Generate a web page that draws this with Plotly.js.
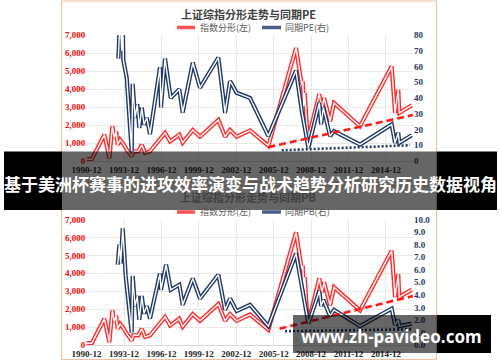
<!DOCTYPE html>
<html><head><meta charset="utf-8">
<script src="https://cdn.plot.ly/plotly-3.0.1.min.js"></script>
<style>html,body{margin:0;padding:0;background:#fff}#chart{width:500px;height:362px}</style>
</head><body><div id="chart"></div>
<script>
// ---- data ----
const tickLabels = ['1990-12','1993-12','1996-12','1999-12','2002-12','2005-12','2008-12','2011-12','2014-12'];

const idxYear = [1990.94,1991.34,1992.35,1992.67,1992.75,1992.99,1993.15,1993.29,1993.42,1993.61,1993.82,1994.14,1994.54,1994.67,1995.07,1995.35,1995.61,1996.01,1996.95,1997.22,1997.62,1998.36,1998.63,1999.44,2000.02,2001.49,2002.03,2002.43,2002.96,2004.03,2005.5,2007.72,2008.18,2008.26,2008.34,2008.42,2008.58,2008.71,2009.59,2009.8,2009.97,2010.45,2010.77,2012.85,2015.39,2015.66,2015.92,2016.0,2017.0];
const idxVal  = [100,100,1460,540,150,1930,1280,1650,900,1180,1000,630,250,540,540,900,450,540,1370,1560,1090,1460,1020,1720,1350,2280,1350,1720,1350,1700,850,6280,4240,4430,3040,3780,2020,1280,3720,2940,3500,2210,3220,1930,5260,2670,3960,2670,3090];

const peYear = [1993.47,1993.61,1993.74,1993.82,1993.87,1994.14,1994.54,1994.62,1994.81,1994.99,1995.15,1995.35,1995.53,1995.75,1996.01,1996.81,1996.89,1997.21,1997.67,1998.36,1998.63,1999.44,2000.02,2001.49,2002.03,2002.43,2002.96,2004.03,2005.5,2007.72,2008.18,2008.44,2008.71,2009.59,2009.73,2009.91,2010.45,2010.77,2012.85,2015.39,2015.66,2015.92,2016.0,2017.0];
const peVal  = [65,92,70,95,64,53,6,49,27.5,36,21,34,23,27.5,17,59.5,34,65,40,45.6,30.7,62.5,46.5,65.7,30.5,50.8,43.3,40,15.8,57.4,31.8,21.1,8.3,37.1,23.3,33.9,15.8,19,10.4,23.2,11.5,17.9,11.5,16.4];

const pbYear = [1993.42,1993.55,1993.66,1993.82,1993.95,1994.06,1994.54,1994.62,1994.81,1994.99,1995.15,1995.35,1995.53,1995.75,1996.01,1996.81,1996.89,1997.3,1997.67,1998.36,1998.63,1999.44,2000.02,2001.49,2002.03,2002.43,2002.96,2004.03,2005.5,2007.72,2008.18,2008.44,2008.71,2009.59,2009.73,2009.91,2010.45,2010.77,2012.85,2015.39,2015.66,2015.92,2016.0,2017.0];
const pbVal  = [6.4,8.0,6.5,9.3,7.3,5.5,1.0,5.5,3.1,3.9,2.0,3.9,2.5,3.1,2.1,5.7,4.4,6.4,4.4,4.8,3.2,5.3,3.7,5.6,2.8,3.7,2.7,3.2,1.5,7.3,4.7,3.1,1.7,4.3,3.1,3.6,2.3,2.8,1.5,2.9,1.6,2.0,1.5,1.7];

const peTrendYear = [2005.5, 2017.1], peTrendVal = [8.8, 29.2];
const peFloorYear = [2006.57, 2016.86], peFloorVal = [6.8, 10.0];
const pbTrendYear = [2006.4, 2017.1], pbTrendVal = [1.3, 3.9];
const pbFloorYear = [2006.84, 2017.0], pbFloorVal = [1.1, 1.25];

const titleTop = '上证综指分形走势与同期PE';
const titleBot = '上证综指分形走势与同期PB';
const legIdx = '指数分形(左)';
const legPE = '同期PE(右)';
const legPB = '同期PB(右)';
const bannerText = '基于美洲杯赛事的进攻效率演变与战术趋势分析研究历史数据视角';
const watermark = 'www.zh-pavideo.com';

// ---- styling ----
const RED = '#ff2a2a', NAVY = '#1f3864';
const W = 500, H = 362;
const fx = x => x / W, fy = y => 1 - y / H;
const tickVals = tickLabels.map(s => +s.slice(0,4) + (+s.slice(5) - 0.9) / 12);

function dbl(x, y, xa, ya, color) {
  return [
    {x, y, xaxis: xa, yaxis: ya, mode: 'lines', line: {color, width: 4.2}, hoverinfo: 'skip'},
    {x, y, xaxis: xa, yaxis: ya, mode: 'lines', line: {color: '#ffffff', width: 1.4}, hoverinfo: 'skip'}
  ];
}
const traces = [
  ...dbl(idxYear, idxVal, 'x', 'y', RED),
  ...dbl(peYear, peVal, 'x', 'y2', NAVY),
  {x: peTrendYear, y: peTrendVal, xaxis: 'x', yaxis: 'y2', mode: 'lines', line: {color: '#ff1a1a', width: 2.6, dash: '7px,4px'}},
  {x: peFloorYear, y: peFloorVal, xaxis: 'x', yaxis: 'y2', mode: 'lines', line: {color: NAVY, width: 2.6, dash: '2px,2px'}},
  ...dbl(idxYear, idxVal, 'x2', 'y3', RED),
  ...dbl(pbYear, pbVal, 'x2', 'y4', NAVY),
  {x: pbTrendYear, y: pbTrendVal, xaxis: 'x2', yaxis: 'y4', mode: 'lines', line: {color: '#ff1a1a', width: 2.6, dash: '7px,4px'}},
  {x: pbFloorYear, y: pbFloorVal, xaxis: 'x2', yaxis: 'y4', mode: 'lines', line: {color: NAVY, width: 2.6, dash: '2px,2px'}}
];

const serif = 'Liberation Serif, Times New Roman, serif';
const xCommon = {
  range: [1990.9, 2017.1], domain: [fx(86.3), fx(413)], tickvals: tickVals, ticktext: tickLabels,
  tickfont: {family: serif, size: 9, color: '#262626', weight: 'bold'}, showgrid: true, gridcolor: '#e8e8e8',
  zeroline: false, showline: true, linecolor: '#d9d9d9', ticks: '', fixedrange: true
};
const yLeft = {
  range: [0, 7000], dtick: 1000, tickformat: ',d', tickfont: {family: serif, size: 9, color: '#ff0000', weight: 'bold'},
  showgrid: true, gridcolor: '#e8e8e8', zeroline: false, ticks: '', side: 'left'
};
const yRightFont = {family: serif, size: 9, color: NAVY, weight: 'bold'};

const CJK = 'Noto Sans CJK SC, sans-serif';
function chartDecor(titleY, legY, title, leg2) {
  return {
    ann: [
      {text: '<b>' + title + '</b>', x: fx(248), y: fy(titleY), xref: 'paper', yref: 'paper', showarrow: false,
       font: {family: CJK, size: 11, color: '#404040'}, xanchor: 'center', yanchor: 'middle'},
      {text: legIdx, x: fx(198), y: fy(legY), xref: 'paper', yref: 'paper', showarrow: false,
       font: {family: CJK, size: 9, color: '#595959'}, xanchor: 'left', yanchor: 'middle'},
      {text: leg2, x: fx(283), y: fy(legY), xref: 'paper', yref: 'paper', showarrow: false,
       font: {family: CJK, size: 9, color: '#595959'}, xanchor: 'left', yanchor: 'middle'}
    ],
    shp: [
      {type: 'line', xref: 'paper', yref: 'paper', x0: fx(177), x1: fx(195), y0: fy(legY), y1: fy(legY), line: {color: '#ff5050', width: 3.5}},
      {type: 'line', xref: 'paper', yref: 'paper', x0: fx(262), x1: fx(281), y0: fy(legY), y1: fy(legY), line: {color: '#4a5f8a', width: 3.5}}
    ]
  };
}
const dTop = chartDecor(14, 27.5, titleTop, legPE);
const dBot = chartDecor(197, 212, titleBot, legPB);

const BORDER = '#f2bfa0';
const shapes = [
  {type: 'rect', xref: 'paper', yref: 'paper', x0: fx(61.5), x1: fx(436.5), y0: fy(1), y1: fy(182), line: {color: BORDER, width: 1.2}, layer: 'below'},
  {type: 'rect', xref: 'paper', yref: 'paper', x0: fx(61.5), x1: fx(436.5), y0: fy(186), y1: fy(359.5), line: {color: BORDER, width: 1.2}, layer: 'below'},
  ...dTop.shp, ...dBot.shp,
  // banner
  {type: 'rect', xref: 'paper', yref: 'paper', x0: fx(4), x1: fx(62), y0: fy(151.5), y1: fy(210), fillcolor: '#000', line: {width: 0}, layer: 'above'},
  {type: 'rect', xref: 'paper', yref: 'paper', x0: fx(62), x1: fx(437), y0: fy(151.5), y1: fy(210), fillcolor: 'rgba(0,0,0,0.6)', line: {width: 0}, layer: 'above'},
  {type: 'rect', xref: 'paper', yref: 'paper', x0: fx(437), x1: fx(497), y0: fy(151.5), y1: fy(210), fillcolor: '#000', line: {width: 0}, layer: 'above'},
  // watermark box
  {type: 'rect', xref: 'paper', yref: 'paper', x0: fx(293), x1: fx(437), y0: fy(315), y1: fy(353), fillcolor: 'rgba(0,0,0,0.6)', line: {width: 0}, layer: 'above'},
  {type: 'rect', xref: 'paper', yref: 'paper', x0: fx(437), x1: fx(491), y0: fy(315), y1: fy(353), fillcolor: '#000', line: {width: 0}, layer: 'above'}
];
const annotations = [
  ...dTop.ann, ...dBot.ann,
  {text: '<b>' + bannerText + '</b>', x: fx(250), y: fy(183), xref: 'paper', yref: 'paper', showarrow: false,
   font: {family: CJK, size: 17, color: '#ffffff'}, xanchor: 'center', yanchor: 'middle'},
  {text: '<b>' + watermark + '</b>', x: fx(391), y: fy(336), xref: 'paper', yref: 'paper', showarrow: false,
   font: {family: 'Noto Sans, sans-serif', size: 17, color: '#ffffff'}, xanchor: 'center', yanchor: 'middle'}
];

const layout = {
  width: W, height: H, margin: {l: 0, r: 0, t: 0, b: 0}, showlegend: false,
  paper_bgcolor: '#ffffff', plot_bgcolor: 'rgba(0,0,0,0)',
  xaxis: Object.assign({}, xCommon, {anchor: 'y'}),
  yaxis: Object.assign({}, yLeft, {domain: [fy(161), fy(35)], anchor: 'x'}),
  yaxis2: {range: [0, 80], dtick: 10, overlaying: 'y', side: 'right', anchor: 'x', showgrid: false, zeroline: false, ticks: '', tickfont: yRightFont},
  xaxis2: Object.assign({}, xCommon, {anchor: 'y3'}),
  yaxis3: Object.assign({}, yLeft, {domain: [fy(345), fy(219.5)], anchor: 'x2'}),
  yaxis4: {range: [0, 10], dtick: 1, tickformat: '.1f', overlaying: 'y3', side: 'right', anchor: 'x2', showgrid: false, zeroline: false, ticks: '', tickfont: yRightFont},
  shapes, annotations
};
Plotly.newPlot('chart', traces, layout, {staticPlot: true, displayModeBar: false});
</script></body></html>
